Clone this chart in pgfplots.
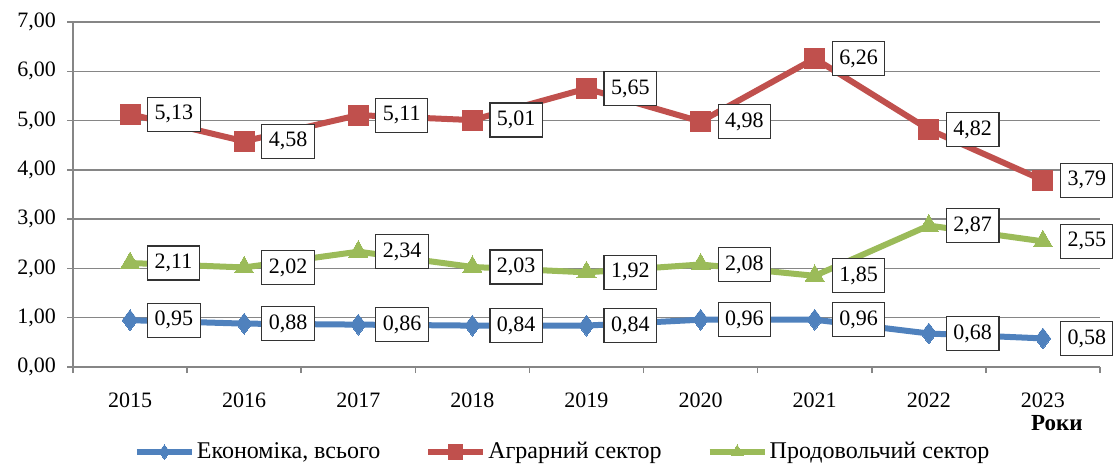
\documentclass[border=0pt]{standalone}
\usepackage{pgfplots}
\pgfplotsset{compat=1.18}
\usepackage[no-math]{fontspec}
\setmainfont{Liberation Serif}
\definecolor{cblue}{HTML}{4F81BD}
\definecolor{cred}{HTML}{C0504D}
\definecolor{cgreen}{HTML}{9BBB59}
\definecolor{cgrid}{HTML}{868686}
\begin{document}
\begin{tikzpicture}
\begin{axis}[
  scale only axis, width=513.5pt, height=172.5pt,
  xmin=-0.5, xmax=8.5, ymin=0, ymax=7,
  axis lines*=left,
  axis line style={cgrid, line width=0.75pt},
  xtick={0,...,8}, xticklabels={2015,2016,2017,2018,2019,2020,2021,2022,2023},
  minor xtick={-0.5,0.5,...,8.5},
  major x tick style={draw=none},
  ytick={0,...,7},
  yticklabels={{0,00},{1,00},{2,00},{3,00},{4,00},{5,00},{6,00},{7,00}},
  tick align=outside,
  tick style={cgrid, line width=0.75pt},
  major tick length=3pt, minor tick length=3pt,
  ymajorgrids, grid style={cgrid, line width=0.75pt},
  tick label style={font=\fontsize{11}{13}\selectfont},
  x tick label style={yshift=-6.5pt},
  y tick label style={xshift=-2pt},
  clip=false,
  nodes near coords={\pgfmathprintnumber[use comma, fixed, fixed zerofill, precision=2, assume math mode=true]{\pgfplotspointmeta}},
  nodes near coords style={draw=black!80, line width=0.6pt, fill=white, anchor=west, xshift=8.5pt,
     font=\fontsize{11}{13}\selectfont, inner xsep=3.5pt, minimum height=17pt, text=black},
  legend style={at={(0.4768,-0.2464)}, anchor=center, draw=none, legend columns=3,
     font=\fontsize{12}{14}\selectfont, nodes={inner xsep=1pt},
     /tikz/every even column/.append style={column sep=21.5pt}},
  legend cell align=left,
  legend image code/.code={\draw[mark repeat=2, mark phase=2, mark size=3.6pt] plot coordinates {(0pt,0pt) (13.75pt,0pt) (27.5pt,0pt)};},
]
\coordinate (O) at (rel axis cs:0,0);
\addplot[cblue, line width=3pt, mark=diamond*, mark size=5.2pt, mark options={solid, line width=0pt, fill=cblue}]
 coordinates {(0,0.95) (1,0.88) (2,0.86) (3,0.84) (4,0.84) (5,0.96) (6,0.96) (7,0.68) (8,0.58)};
\addlegendentry{Економіка, всього}
\addplot[cred, line width=3pt, mark=square*, mark size=5pt, mark options={solid, line width=0pt, fill=cred}]
 coordinates {(0,5.13) (1,4.58) (2,5.11) (3,5.01) (4,5.65) (5,4.98) (6,6.26) (7,4.82) (8,3.79)};
\addlegendentry{Аграрний сектор}
\addplot[cgreen, line width=3pt, mark=triangle*, mark size=5.5pt, mark options={solid, line width=0pt, fill=cgreen}]
 coordinates {(0,2.11) (1,2.02) (2,2.34) (3,2.03) (4,1.92) (5,2.08) (6,1.85) (7,2.87) (8,2.55)};
\addlegendentry{Продовольчий сектор}
\node[anchor=east, inner xsep=0pt, font=\fontsize{11.5}{13}\selectfont\bfseries] at (rel axis cs:0.9834,-0.1623) {Роки};
\end{axis}
\pgfresetboundingbox
\path[use as bounding box] ([shift={(-36.5pt,-49.5pt)}]O) rectangle ([shift={(520pt,183.5pt)}]O);
\end{tikzpicture}
\end{document}
